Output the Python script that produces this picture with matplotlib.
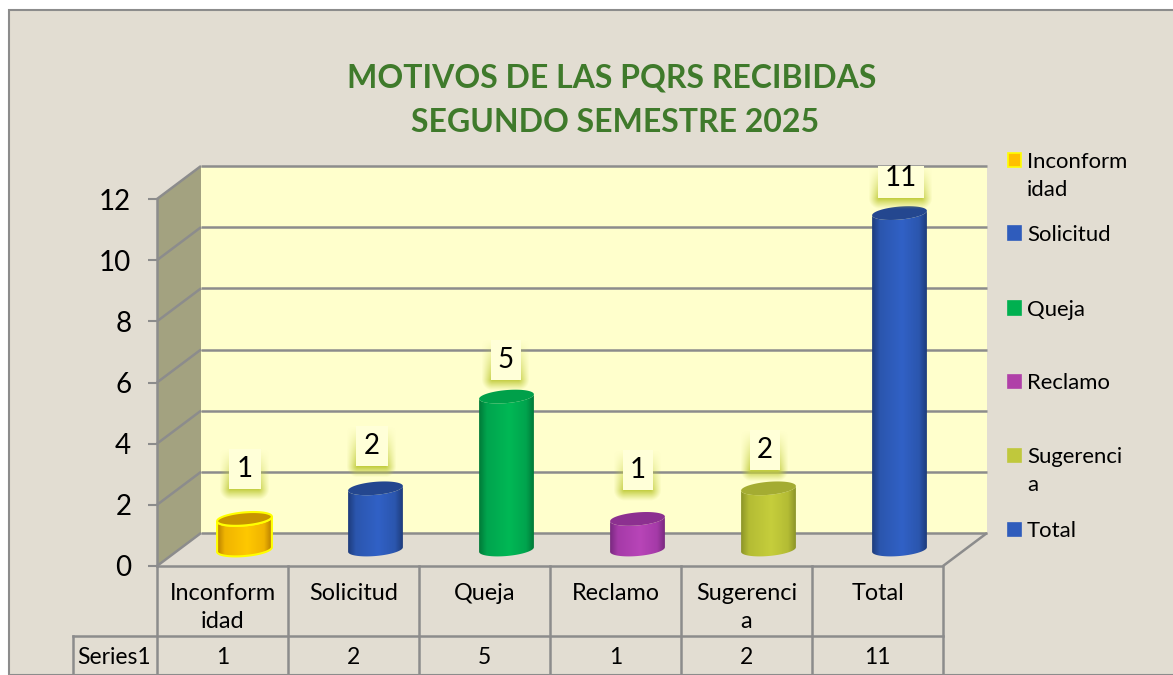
import numpy as np
import matplotlib
matplotlib.use("Agg")
import matplotlib.pyplot as plt
from matplotlib.colors import LinearSegmentedColormap
from matplotlib.lines import Line2D
from matplotlib.patches import PathPatch, Polygon, Rectangle
from matplotlib.path import Path
from matplotlib.transforms import IdentityTransform

categories = ["Inconform\nidad", "Solicitud", "Queja", "Reclamo", "Sugerenci\na", "Total"]
values = [1, 2, 5, 1, 2, 11]
series_name = "Series1"
y_ticks = [0, 2, 4, 6, 8, 10, 12]
title_lines = ["MOTIVOS DE LAS PQRS RECIBIDAS", "SEGUNDO SEMESTRE 2025"]

# dark edge, mid, bright, top face, outline
bar_styles = [
    ("#B87F00", "#F0B400", "#FFC800", "#C89400", "#FFFF00"),
    ("#1E3C7C", "#2B56AE", "#3161C6", "#24478F", None),
    ("#007A38", "#00A44E", "#00B855", "#00A04A", None),
    ("#7A2A80", "#A53AA8", "#B845B8", "#8C3090", None),
    ("#8C9428", "#B4BC34", "#C6CE3C", "#A4AC32", None),
    ("#1E3C7C", "#2B56AE", "#3161C6", "#24478F", None),
]
legend_labels = ["Inconform\nidad", "Solicitud", "Queja", "Reclamo", "Sugerenci\na", "Total"]
legend_swatches = ["#FFC000", "#2F5CBC", "#00B050", "#B040A8", "#C0C83C", "#2F5CBC"]

# layout (pixels)
W, H = 1173, 675
DEPTH_X, DEPTH_Y = 44, 33
BAR_A, BAR_B, BAR_TILT = 27.5, 6.5, np.deg2rad(5)
label_dx = [0, -4, -1, 0, -4, 1]
label_dy = [50, 42, 37, 49, 38, 35]
label_half_w = [16, 16, 15, 15, 15, 23]
legend_y = [176, 235, 310, 383, 471, 531]
swatch_y = [160, 233, 308, 381, 455, 529]

BG = "#E2DDD2"
GRID = "#8C8C8C"
WALL = "#FFFFCC"
SIDE = "#A3A280"
GLOW = np.array([0.76, 0.80, 0.24])

plt.rcParams["font.family"] = ["Lato", "DejaVu Sans"]
fig = plt.figure(figsize=(W / 100, H / 100), dpi=100, facecolor="white")
fig.add_artist(Rectangle((9 / W, 0), 1.1, (H - 10) / H, transform=fig.transFigure,
                         facecolor=BG, edgecolor=GRID, linewidth=1.5, zorder=-5))

ax = fig.add_axes([157 / W, (H - 566) / H, 786 / W, 367 / H])
ax.patch.set_visible(False)
ax.set_xlim(0, len(categories))
ax.set_ylim(0, 12)
ax.set_autoscale_on(False)
for s in ("top", "right", "bottom"):
    ax.spines[s].set_visible(False)
ax.spines["left"].set_color(GRID)
ax.spines["left"].set_linewidth(1.8)
ax.set_yticks(y_ticks)
ax.tick_params(axis="y", length=6.5, width=1.5, color=GRID, labelsize=20, pad=12)
ax.set_xticks(np.arange(len(categories)) + 0.5, categories)
ax.tick_params(axis="x", length=0, labelsize=16.8, pad=12.5)
for t in ax.get_xticklabels():
    t.set_linespacing(1.4)

ID = IdentityTransform()


def P(x, v, depth=0.0):
    d = ax.transData.transform((x, v))
    return np.array([d[0] + DEPTH_X * depth, d[1] + DEPTH_Y * depth])


n = len(categories)
# walls and floor
ax.add_patch(Polygon([P(0, 0, 1), P(n, 0, 1), P(n, 12, 1), P(0, 12, 1)], transform=ID,
                     facecolor=WALL, edgecolor="none", zorder=1, clip_on=False))
ax.add_patch(Polygon([P(0, 0), P(0, 0, 1), P(0, 12, 1), P(0, 12)], transform=ID,
                     facecolor=SIDE, edgecolor="none", zorder=1, clip_on=False))
ax.add_patch(Polygon([P(0, 0), P(n, 0), P(n, 0, 1), P(0, 0, 1)], transform=ID,
                     facecolor=BG, edgecolor="none", zorder=1, clip_on=False))


def seg(a, b, z=2, lw=1.8):
    ax.add_line(Line2D([a[0], b[0]], [a[1], b[1]], transform=ID, color=GRID, lw=lw,
                       zorder=z, clip_on=False, solid_capstyle="butt"))


for v in y_ticks:
    seg(P(0, v), P(0, v, 1))
    seg(P(0, v, 1), P(n, v, 1))
seg(P(n, 0), P(n, 0, 1))
seg(P(0, 0), P(n, 0), z=3)


def ell(c, t):
    ca, sa = np.cos(BAR_TILT), np.sin(BAR_TILT)
    x, y = BAR_A * np.cos(t), BAR_B * np.sin(t)
    return np.column_stack([c[0] + x * ca - y * sa, c[1] + x * sa + y * ca])


# cylinders
for i, (val, st) in enumerate(zip(values, bar_styles)):
    dark, mid, bright, top_c, outline = st
    base = P(i + 0.5, 0, 0.5)
    top = P(i + 0.5, val, 0.5)
    low = ell(base, np.linspace(np.pi, 2 * np.pi, 40))
    up = ell(top, np.linspace(2 * np.pi, np.pi, 40))
    pts = np.vstack([low, up, low[:1]])
    body = Path(pts, closed=True)
    cmap = LinearSegmentedColormap.from_list("b", [(0, dark), (0.14, mid), (0.55, bright),
                                                   (0.86, mid), (1, dark)])
    grad = np.linspace(0, 1, 128).reshape(1, -1)
    im = ax.imshow(grad, cmap=cmap, aspect="auto", transform=ID, zorder=4, clip_on=True,
                   extent=(base[0] - BAR_A, base[0] + BAR_A, base[1] - 12, top[1] + 12),
                   interpolation="bilinear")
    patch = PathPatch(body, transform=ID, facecolor="none",
                      edgecolor=outline if outline else "none", lw=1.5, zorder=5, clip_on=False)
    ax.add_patch(patch)
    im.set_clip_path(patch)
    ring = ell(top, np.linspace(0, 2 * np.pi, 80))
    ax.add_patch(Polygon(ring, transform=ID, facecolor=top_c,
                         edgecolor=outline if outline else "none", lw=1.5, zorder=6, clip_on=False))

# data labels with soft glow
wall_top = P(0, 12, 1)[1]
for i, val in enumerate(values):
    c = P(i + 0.5, val, 0.5)
    cx, cy = c[0] + label_dx[i], c[1] + label_dy[i]
    hw = label_half_w[i]
    x0, x1, y0, y1 = cx - hw, cx + hw, cy - 20, min(cy + 20, wall_top)
    gx0, gx1, gy0, gy1 = x0 - 12, x1 + 12, y0 - 16, y1
    xs = np.arange(int(gx0), int(gx1)) + 0.5
    ys = np.arange(int(gy0), int(gy1)) + 0.5
    X, Y = np.meshgrid(xs, ys)
    dx = np.maximum(np.maximum(x0 + 2 - X, X - x1 + 2), 0)
    dy = np.maximum(y0 - Y, 0)
    dist = np.hypot(dx, dy)
    alpha = np.clip(1 - dist / 11, 0, 1) ** 1.1
    # glow weakens towards the top of the label
    alpha *= np.clip(1 - (Y - y0) / (y1 - y0), 0.0, 1) ** 1.2
    rgba = np.dstack([np.broadcast_to(GLOW[k], X.shape) for k in range(3)] + [alpha])
    ax.imshow(rgba, origin="lower", aspect="auto", transform=ID, zorder=7, clip_on=False,
              extent=(int(gx0), int(gx1), int(gy0), int(gy1)), interpolation="bilinear")
    ax.add_patch(Rectangle((x0, y0), x1 - x0, y1 - y0, transform=ID, facecolor="#FFFFD8",
                           edgecolor="none", zorder=8, clip_on=False))
    ax.text(cx, cy, str(val), transform=ID, ha="center", va="center", fontsize=20,
            color="black", zorder=9, clip_on=False)

# data table
table_mid_y = 636
ftrans = fig.transFigure
for i in range(n + 1):
    x = P(i, 0)[0]
    fig.add_artist(Line2D([x, x], [0, H - 566], transform=ID, color=GRID, lw=1.8))
fig.add_artist(Line2D([73, P(n, 0)[0]], [H - table_mid_y] * 2, transform=ID, color=GRID, lw=1.8))
fig.add_artist(Line2D([73, 73], [0, H - table_mid_y], transform=ID, color=GRID, lw=1.8))
for i, val in enumerate(values):
    fig.text(P(i + 0.5, 0)[0] / W, (H - 657) / H, str(val), ha="center", va="center", fontsize=16.5)
fig.text(114 / W, (H - 657) / H, series_name, ha="center", va="center", fontsize=16.5)

# legend
for lab, ly, sy, col, st in zip(legend_labels, legend_y, swatch_y, legend_swatches, bar_styles):
    edge = st[4] if st[4] else col
    fig.add_artist(Rectangle((1008 / W, (H - sy - 6.5) / H), 13 / W, 13 / H, transform=ftrans,
                             facecolor=col, edgecolor=edge, lw=1.2))
    fig.text(1027 / W, (H - ly) / H, lab, ha="left", va="center", fontsize=15.9, linespacing=1.5)

# title
fig.text(612 / W, (H - 78) / H, title_lines[0], ha="center", va="center", fontsize=23,
         fontweight="bold", color="#3F7A2B")
fig.text(615 / W, (H - 123) / H, title_lines[1], ha="center", va="center", fontsize=23,
         fontweight="bold", color="#3F7A2B")

fig.savefig("out.png", dpi=100, facecolor="white")
